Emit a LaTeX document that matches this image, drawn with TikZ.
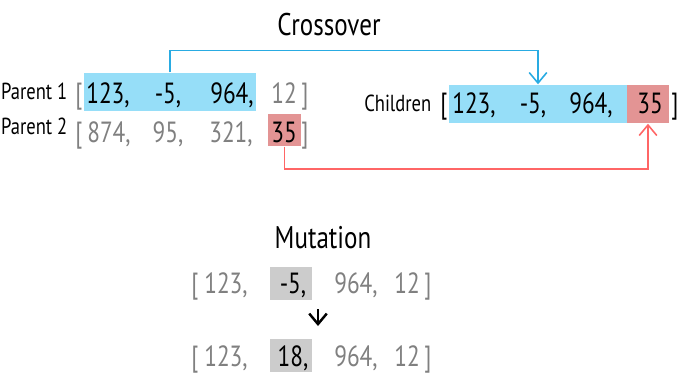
\documentclass[tikz,border=0pt]{standalone}
\usepackage{fontspec}
\setmainfont{PT Sans}[FakeStretch=0.8]
\usetikzlibrary{arrows.meta}
\definecolor{keep}{HTML}{96DEF8}
\definecolor{keepline}{HTML}{29ABE2}
\definecolor{swap}{HTML}{E39494}
\definecolor{swapline}{HTML}{FF6666}
\definecolor{mutfill}{HTML}{CCCCCC}
\definecolor{dim}{HTML}{808080}
\tikzset{
  >={Straight Barb[length=3pt,width=5pt]},
  cell/.style={inner sep=0pt, minimum height=0.38cm},
  num/.style={anchor=base, inner sep=0pt, font=\fontsize{8.3}{9}\selectfont},
  dimnum/.style={num, text=dim},
  tag/.style={anchor=east, inner sep=0pt, font=\fontsize{6.6}{8}\selectfont},
  heading/.style={anchor=base, inner sep=0pt, font=\fontsize{8.9}{10}\selectfont},
  link/.style={->, line width=0.45pt},
}

\begin{document}
\begin{tikzpicture}[x=0.01cm, y=-0.01cm]
  \useasboundingbox (0,0) rectangle (679,372);

  % crossover
  \node[heading] (xtitle) at (329,35) {Crossover};

  \node[cell, fill=keep, minimum width=1.72cm] (p1keep) at (170,92) {};
  \node[cell, fill=swap, minimum width=0.33cm, minimum height=0.32cm] (p2swap) at (284.5,130) {};
  \node[cell, fill=keep, minimum width=1.78cm] (chkeep) at (538,104) {};
  \node[cell, fill=swap, minimum width=0.42cm] (chswap) at (648,104) {};

  \node[tag] (p1tag) at (68,91) {Parent 1};
  \node[dimnum] at (79,103) {[};
  \node[num] at (108,103) {123,};
  \node[num] at (168,103) {-5,};
  \node[num] at (232,103) {964,};
  \node[dimnum] at (284,103) {12};
  \node[dimnum] at (305,103) {]};

  \node[tag] (p2tag) at (68,126) {Parent 2};
  \node[dimnum] at (79,142) {[};
  \node[dimnum] at (109,142) {874,};
  \node[dimnum] at (168,142) {95,};
  \node[dimnum] at (231,142) {321,};
  \node[num] at (284,142) {35};
  \node[dimnum] at (305,142) {]};

  \node[tag] (chtag) at (432,103) {Children};
  \node[num] at (444,113) {[};
  \node[num] at (474,113) {123,};
  \node[num] at (533,113) {-5,};
  \node[num] at (591,113) {964,};
  \node[num] at (650,113) {35};
  \node[num] at (675,113) {]};

  \draw[link, keepline] (p1keep.north) -- ++(0,-22) -| (chkeep.north);
  \draw[link, swapline] (p2swap.south) -- ++(0,22) -| (chswap.south);

  % mutation
  \node[heading] (mtitle) at (323,248) {Mutation};

  \node[cell, fill=mutfill, minimum width=0.42cm, minimum height=0.33cm] (m1gene) at (291,283.5) {};
  \node[cell, fill=mutfill, minimum width=0.42cm, minimum height=0.33cm] (m2gene) at (291,355.5) {};

  \foreach \y/\g in {293/{-5,}, 366/{18,}} {
    \node[dimnum] at (195,\y) {[};
    \node[dimnum] at (226,\y) {123,};
    \node[num] at (293,\y) {\g};
    \node[dimnum] at (356,\y) {964,};
    \node[dimnum] at (407,\y) {12};
    \node[dimnum] at (428,\y) {]};
  }

  \coordinate (mstart) at (318,309);
  \coordinate (mend) at (318,326);
  \draw[->, line width=0.7pt] (mstart) -- (mend);
\end{tikzpicture}
\end{document}
